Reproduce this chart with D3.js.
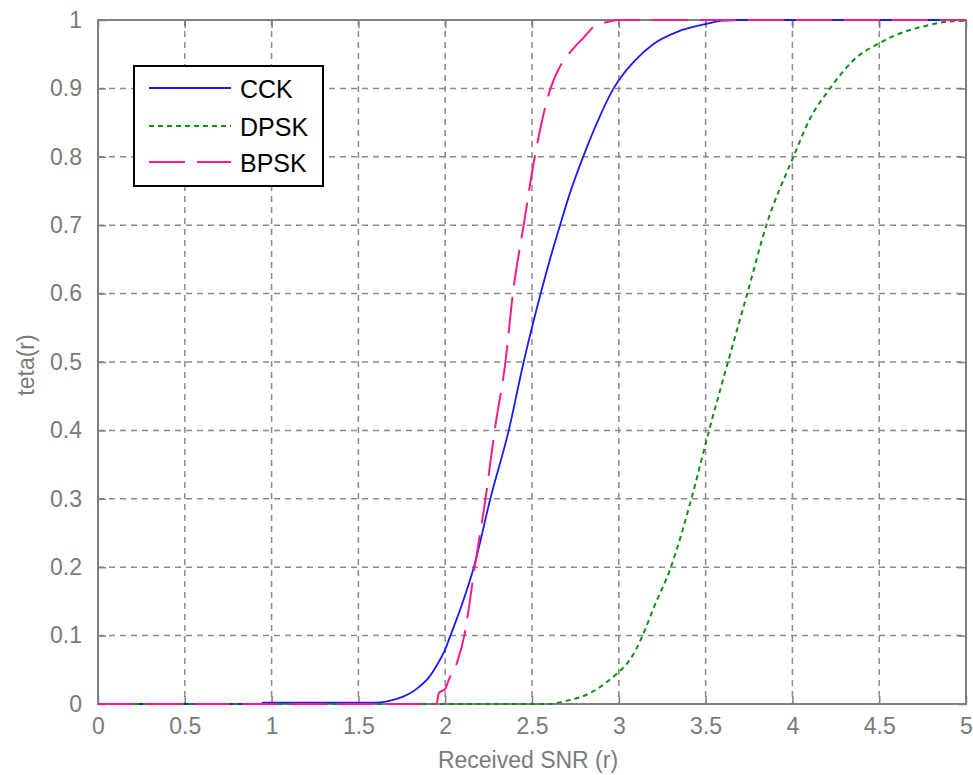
<!DOCTYPE html>
<html>
<head>
<meta charset="utf-8">
<script src="https://cdn.jsdelivr.net/npm/d3@7"></script>
<style>
  html, body { margin: 0; padding: 0; background: #fff; }
  svg { display: block; }
  text { font-family: "Liberation Sans", Arial, sans-serif; }
</style>
</head>
<body>
<svg id="chart" width="973" height="775"></svg>
<script>
// Tick values and labels
const xTicks = [0, 0.5, 1, 1.5, 2, 2.5, 3, 3.5, 4, 4.5, 5];
const yTicks = [0, 0.1, 0.2, 0.3, 0.4, 0.5, 0.6, 0.7, 0.8, 0.9, 1];
const xLabel = "Received SNR (r)";
const yLabel = "teta(r)";

// Series: [r, teta(r)]
const cck = [
  [0, 0], [0.94, 0], [0.95, 0.002], [1.6, 0.002], [1.65, 0.003], [1.7, 0.006],
  [1.75, 0.01], [1.8, 0.016], [1.85, 0.025], [1.9, 0.037], [1.95, 0.056],
  [2.0, 0.08], [2.03, 0.1], [2.1, 0.148], [2.165, 0.2], [2.26, 0.3],
  [2.366, 0.4], [2.452, 0.5], [2.55, 0.6], [2.6, 0.647], [2.65, 0.69],
  [2.72, 0.748], [2.79, 0.797], [2.88, 0.853], [2.97, 0.9], [3.0, 0.912],
  [3.09, 0.94], [3.2, 0.965], [3.34, 0.983], [3.5, 0.994], [3.6, 0.999],
  [3.7, 1], [5, 1]
];
const dpsk = [
  [0, 0], [2.6, 0], [2.65, 0.002], [2.72, 0.006], [2.79, 0.011],
  [2.856, 0.019], [2.93, 0.032], [3.0, 0.047], [3.05, 0.06], [3.1, 0.08],
  [3.15, 0.108], [3.2, 0.14], [3.3, 0.2], [3.418, 0.3], [3.52, 0.4], [3.629, 0.5],
  [3.74, 0.6], [3.85, 0.7], [4.006, 0.8], [4.1, 0.855], [4.217, 0.9],
  [4.3, 0.927], [4.355, 0.942], [4.5, 0.966], [4.625, 0.981],
  [4.76, 0.991], [4.89, 0.9975], [5, 0.999]
];
const bpsk = [
  [0, 0], [1.95, 0], [1.963, 0.016], [2.0, 0.022], [2.02, 0.035],
  [2.07, 0.062], [2.11, 0.1], [2.17, 0.2], [2.232, 0.3], [2.285, 0.4],
  [2.347, 0.5], [2.39, 0.6], [2.452, 0.7], [2.516, 0.8], [2.607, 0.9],
  [2.645, 0.924], [2.73, 0.956], [2.8, 0.975], [2.855, 0.99],
  [2.95, 0.998], [3.0, 1], [5, 1]
];

const seriesNames = ["CCK", "DPSK", "BPSK"];
const seriesData = [cck, dpsk, bpsk];
const seriesStyle = [
  { color: "#1a1aff", dash: null, width: 1.8 },
  { color: "#109010", dash: "5,4", width: 2 },
  { color: "#ff1a8c", dash: "36,12", width: 2 }
];

const svg = d3.select("#chart");
const plot = { left: 98, right: 966, top: 20, bottom: 704 };

const x = d3.scaleLinear().domain([0, 5]).range([plot.left, plot.right]);
const y = d3.scaleLinear().domain([0, 1]).range([plot.bottom, plot.top]);

const gridColor = "#8a8a8a";
const axisColor = "#808080";
const labelColor = "#7a7a7a";

// Dashed grid
const grid = svg.append("g");
grid.selectAll("line.vx").data(xTicks.slice(1, -1)).join("line")
  .attr("x1", d => x(d)).attr("x2", d => x(d))
  .attr("y1", plot.top).attr("y2", plot.bottom)
  .attr("stroke", gridColor).attr("stroke-width", 1.5)
  .attr("stroke-dasharray", "6,5");
grid.selectAll("line.hy").data(yTicks.slice(1, -1)).join("line")
  .attr("x1", plot.left).attr("x2", plot.right)
  .attr("y1", d => y(d)).attr("y2", d => y(d))
  .attr("stroke", gridColor).attr("stroke-width", 1.5)
  .attr("stroke-dasharray", "6,5");

// Axes with inward ticks
function styleAxis(g) {
  g.select(".domain").remove();
  g.selectAll(".tick line").attr("stroke", axisColor).attr("stroke-width", 1.5);
  g.selectAll(".tick text")
    .attr("fill", labelColor)
    .style("font-size", "23px")
    .style("font-family", "'Liberation Sans', Arial, sans-serif");
}
const fmt = d => String(d);

svg.append("g")
  .attr("transform", `translate(0,${plot.bottom})`)
  .call(d3.axisBottom(x).tickValues(xTicks).tickFormat(fmt).tickSizeInner(-8).tickSizeOuter(0).tickPadding(14))
  .call(styleAxis);
svg.append("g")
  .attr("transform", `translate(0,${plot.top})`)
  .call(d3.axisTop(x).tickValues(xTicks).tickFormat("").tickSizeInner(-8).tickSizeOuter(0))
  .call(styleAxis);
svg.append("g")
  .attr("transform", `translate(${plot.left},0)`)
  .call(d3.axisLeft(y).tickValues(yTicks).tickFormat(fmt).tickSizeInner(-8).tickSizeOuter(0).tickPadding(16))
  .call(styleAxis);
svg.append("g")
  .attr("transform", `translate(${plot.right},0)`)
  .call(d3.axisRight(y).tickValues(yTicks).tickFormat("").tickSizeInner(-8).tickSizeOuter(0))
  .call(styleAxis);

// Plot box
svg.append("rect")
  .attr("x", plot.left).attr("y", plot.top)
  .attr("width", plot.right - plot.left).attr("height", plot.bottom - plot.top)
  .attr("fill", "none").attr("stroke", axisColor).attr("stroke-width", 2);

// Curves
const line = d3.line().x(d => x(d[0])).y(d => y(d[1])).curve(d3.curveMonotoneX);
seriesData.forEach((data, i) => {
  const s = seriesStyle[i];
  svg.append("path")
    .datum(data)
    .attr("d", line)
    .attr("fill", "none")
    .attr("stroke", s.color)
    .attr("stroke-width", s.width)
    .attr("stroke-dasharray", s.dash);
});

// Axis titles
svg.append("text")
  .attr("x", (plot.left + plot.right) / 2 - 4)
  .attr("y", 768)
  .attr("text-anchor", "middle")
  .attr("fill", labelColor)
  .style("font-size", "23px")
  .text(xLabel);
svg.append("text")
  .attr("transform", `translate(34,365) rotate(-90)`)
  .attr("text-anchor", "middle")
  .attr("fill", labelColor)
  .style("font-size", "23px")
  .text(yLabel);

// Legend
const legend = svg.append("g");
legend.append("rect")
  .attr("x", 134).attr("y", 66).attr("width", 189).attr("height", 120)
  .attr("fill", "#fff").attr("stroke", "#000").attr("stroke-width", 2);
const rowY = [88, 126, 162];
seriesNames.forEach((name, i) => {
  const s = seriesStyle[i];
  legend.append("line")
    .attr("x1", 149).attr("x2", 231)
    .attr("y1", rowY[i]).attr("y2", rowY[i])
    .attr("stroke", s.color).attr("stroke-width", s.width)
    .attr("stroke-dasharray", s.dash);
  legend.append("text")
    .attr("x", 240).attr("y", rowY[i] + 10)
    .attr("fill", "#000")
    .style("font-size", "25px")
    .text(name);
});
</script>
</body>
</html>
